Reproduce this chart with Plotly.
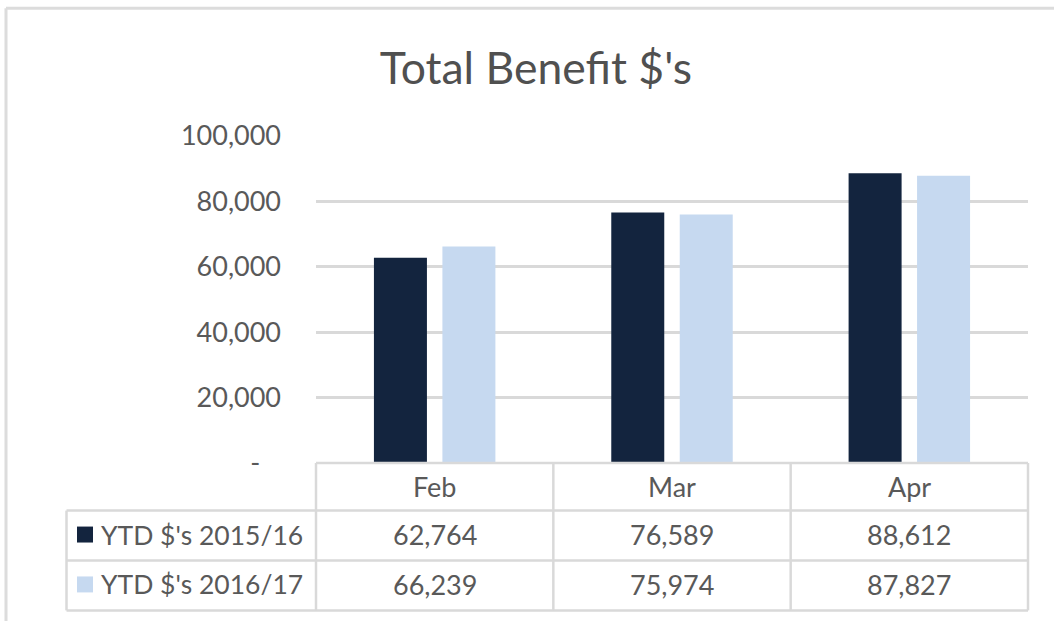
import plotly.graph_objects as go

# ---- data ----
categories = ["Feb", "Mar", "Apr"]
series_names = ["YTD $'s 2015/16", "YTD $'s 2016/17"]
values_2015_16 = [62764, 76589, 88612]
values_2016_17 = [66239, 75974, 87827]
y_tick_vals = [0, 20000, 40000, 60000, 80000, 100000]
y_tick_text = ["-\u00a0\u00a0\u00a0", "20,000", "40,000", "60,000", "80,000", "100,000"]

colors = ["#13243E", "#C6D9F0"]
text_color = "#595959"
grid_color = "#D9D9D9"
FONT = "Lato"

W, H = 1054, 621
L, R = 316, 1028
T, B = 135.6, 463.3


def px(x):
    return (x - L) / (R - L)


def py(y):
    return (B - y) / (B - T)


fig = go.Figure()
for name, vals, col in zip(series_names, [values_2015_16, values_2016_17], colors):
    fig.add_trace(go.Bar(x=categories, y=vals, name=name, marker_color=col,
                         marker_line_width=0, showlegend=False))

shapes = []
line = dict(color=grid_color, width=2.5)
# table horizontal lines
shapes.append(dict(type="line", xref="paper", yref="paper", x0=0, x1=1, y0=py(463.3), y1=py(463.3), line=line))
for yy in [511, 561, 611]:
    shapes.append(dict(type="line", xref="paper", yref="paper", x0=px(66.5), x1=1, y0=py(yy), y1=py(yy), line=line))
# table vertical lines
shapes.append(dict(type="line", xref="paper", yref="paper", x0=px(66.5), x1=px(66.5), y0=py(511), y1=py(611), line=line))
for i in range(len(categories) + 1):
    xx = i / len(categories)
    shapes.append(dict(type="line", xref="paper", yref="paper", x0=xx, x1=xx, y0=py(463.3), y1=py(611), line=line))
# legend keys
row_centers = [535, 585]
for rc, col in zip(row_centers, colors):
    shapes.append(dict(type="rect", xref="paper", yref="paper", x0=px(77), x1=px(93),
                       y0=py(rc - 8), y1=py(rc + 8), fillcolor=col, line=dict(width=0)))
# outer chart frame
frame = dict(color="#DCDCDC", width=3)
shapes.append(dict(type="line", xref="paper", yref="paper", x0=px(6), x1=px(6), y0=py(7.5), y1=py(700), line=frame))
shapes.append(dict(type="line", xref="paper", yref="paper", x0=px(6), x1=px(1200), y0=py(7.5), y1=py(7.5), line=frame))

annotations = []
font = dict(family=FONT, size=27, color=text_color)
# header row
for c in categories:
    annotations.append(dict(x=c, xref="x", y=py(487), yref="paper", text=c, showarrow=False,
                            font=font, xanchor="center", yanchor="middle"))
# value rows
for rc, name, vals in zip(row_centers, series_names, [values_2015_16, values_2016_17]):
    annotations.append(dict(x=px(99), xref="paper", y=py(rc), yref="paper", text=name, showarrow=False,
                            font=dict(family=FONT, size=26.5, color=text_color),
                            xanchor="left", yanchor="middle"))
    for c, v in zip(categories, vals):
        annotations.append(dict(x=c, xref="x", y=py(rc), yref="paper", text=f"{v:,}", showarrow=False,
                                font=font, xanchor="center", yanchor="middle"))

fig.update_layout(
    width=W, height=H,
    margin=dict(l=L, r=W - R, t=T, b=H - B, pad=0),
    paper_bgcolor="white", plot_bgcolor="white",
    title=dict(text="Total Benefit $'s", x=536 / W, xref="container", xanchor="center",
               y=1 - 68 / H, yref="container", yanchor="middle",
               font=dict(family=FONT, size=44.5, color="#505050")),
    barmode="group", bargap=0.423, bargroupgap=0.226,
    xaxis=dict(showticklabels=False, showgrid=False, showline=False, zeroline=False, ticks=""),
    yaxis=dict(range=[0, 100000], tickvals=y_tick_vals, ticktext=y_tick_text,
               showgrid=True, gridcolor=grid_color, gridwidth=2.5, zeroline=False, showline=False,
               ticks="", ticklabelstandoff=34, tickfont=font),
    shapes=shapes, annotations=annotations,
    font=dict(family=FONT, color=text_color),
)

fig.write_html("out.html", config={"displayModeBar": False},
               post_script="document.body.style.margin='0';")
